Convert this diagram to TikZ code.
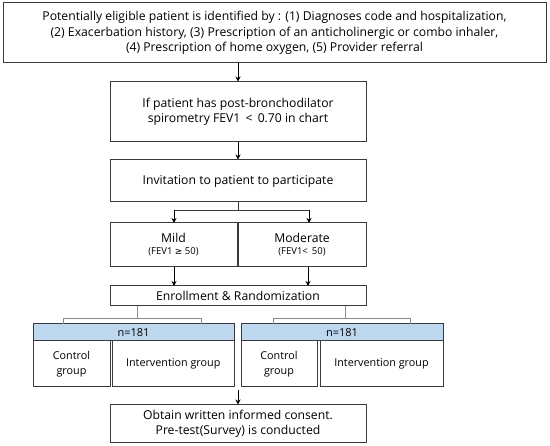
\documentclass[tikz,border=0pt]{standalone}
\usepackage{fontspec}
\setmainfont{Open Sans}
\newfontfamily\symfont{DejaVu Sans}
\usetikzlibrary{arrows.meta}
\definecolor{boxline}{HTML}{3A3A3A}
\definecolor{conline}{HTML}{8A8A8A}
\definecolor{hdrfill}{HTML}{BDD7EE}
\tikzset{
  x=1pt, y=-1pt,
  box/.style={draw=boxline, line width=1pt, fill=white, inner sep=0pt, align=center,
    font=\fontsize{12.2}{15.2}\selectfont},
  hdr/.style={box, fill=hdrfill, font=\fontsize{11}{13}\selectfont},
  cell/.style={box, font=\fontsize{10.8}{15}\selectfont},
  arr/.style={draw=black, line width=0.8pt, -{Stealth[length=5pt,width=5pt]}},
  conn/.style={draw=boxline, line width=0.8pt},
  lconn/.style={draw=conline, line width=0.8pt},
}
\begin{document}
\begin{tikzpicture}
\useasboundingbox (0,0) rectangle (550,446);
\fill[white] (0,0) rectangle (550,446);

\node[box, minimum width=543pt, minimum height=60pt] (top) at (274.5,33)
  {Potentially eligible patient is identified by : (1) Diagnoses code and hospitalization,\\
   (2) Exacerbation history, (3) Prescription of an anticholinergic or combo inhaler,\\
   (4) Prescription of home oxygen, (5) Provider referral};

\node[box, minimum width=256pt, minimum height=60pt] (spiro) at (238,112)
  {If patient has post-bronchodilator\\ spirometry FEV1 \,<\, 0.70 in chart};

\node[box, minimum width=256pt, minimum height=42pt] (invite) at (238,181)
  {Invitation to patient to participate};

\node[box, minimum width=127pt, minimum height=44pt] (mild) at (173.5,245)
  {Mild\\[-3pt]{\fontsize{9.5}{11}\selectfont (FEV1 {\symfont\fontsize{9}{11}\selectfont ≥} 50)}};
\node[box, minimum width=128pt, minimum height=44pt] (moderate) at (302,245)
  {Moderate\\[-3pt]{\fontsize{9.5}{11}\selectfont (FEV1< \,50)}};

\node[box, minimum width=256pt, minimum height=20pt] (enroll) at (238,296)
  {Enrollment \& Randomization};

\node[hdr, minimum width=201pt, minimum height=17pt] (lhdr) at (133.5,332.5) {n=181};
\node[cell, minimum width=77pt, minimum height=46pt] (lctrl) at (71.5,364) {Control\\group};
\node[cell, minimum width=121.5pt, minimum height=46pt] (lint) at (173.25,364) {Intervention group};

\node[hdr, minimum width=202pt, minimum height=17pt] (rhdr) at (342,332.5) {n=181};
\node[cell, minimum width=76pt, minimum height=46pt] (rctrl) at (279,364) {Control\\group};
\node[cell, minimum width=123pt, minimum height=46pt] (rint) at (381.5,364) {Intervention group};

\node[box, minimum width=256pt, minimum height=38pt] (final) at (238,424)
  {Obtain written informed consent.\\ Pre-test(Survey) is conducted};

% connectors
\draw[arr] (spiro.north |- top.south) -- (spiro.north);
\draw[arr] (spiro.south) -- (invite.north);
\coordinate (split) at (238,210);
\draw[conn] (invite.south) -- (split);
\draw[conn] (174,210) -- (309,210);
\draw[arr] (174,210) -- (174,223);
\draw[arr] (309,210) -- (309,223);
\draw[arr] (mild.south -| 174,0) -- (174,286);
\draw[arr] (moderate.south -| 308,0) -- (308,286);

\draw[lconn] (enroll.south -| 137,0) -- (137,318);
\draw[lconn] (63,324) -- (63,318) -- (201,318) -- (201,324);
\draw[lconn] (enroll.south -| 345,0) -- (345,318);
\draw[lconn] (273,324) -- (273,318) -- (410,318) -- (410,324);

\coordinate (gapbot) at (238,390);
\draw[arr] (gapbot) -- (final.north);
\end{tikzpicture}
\end{document}
